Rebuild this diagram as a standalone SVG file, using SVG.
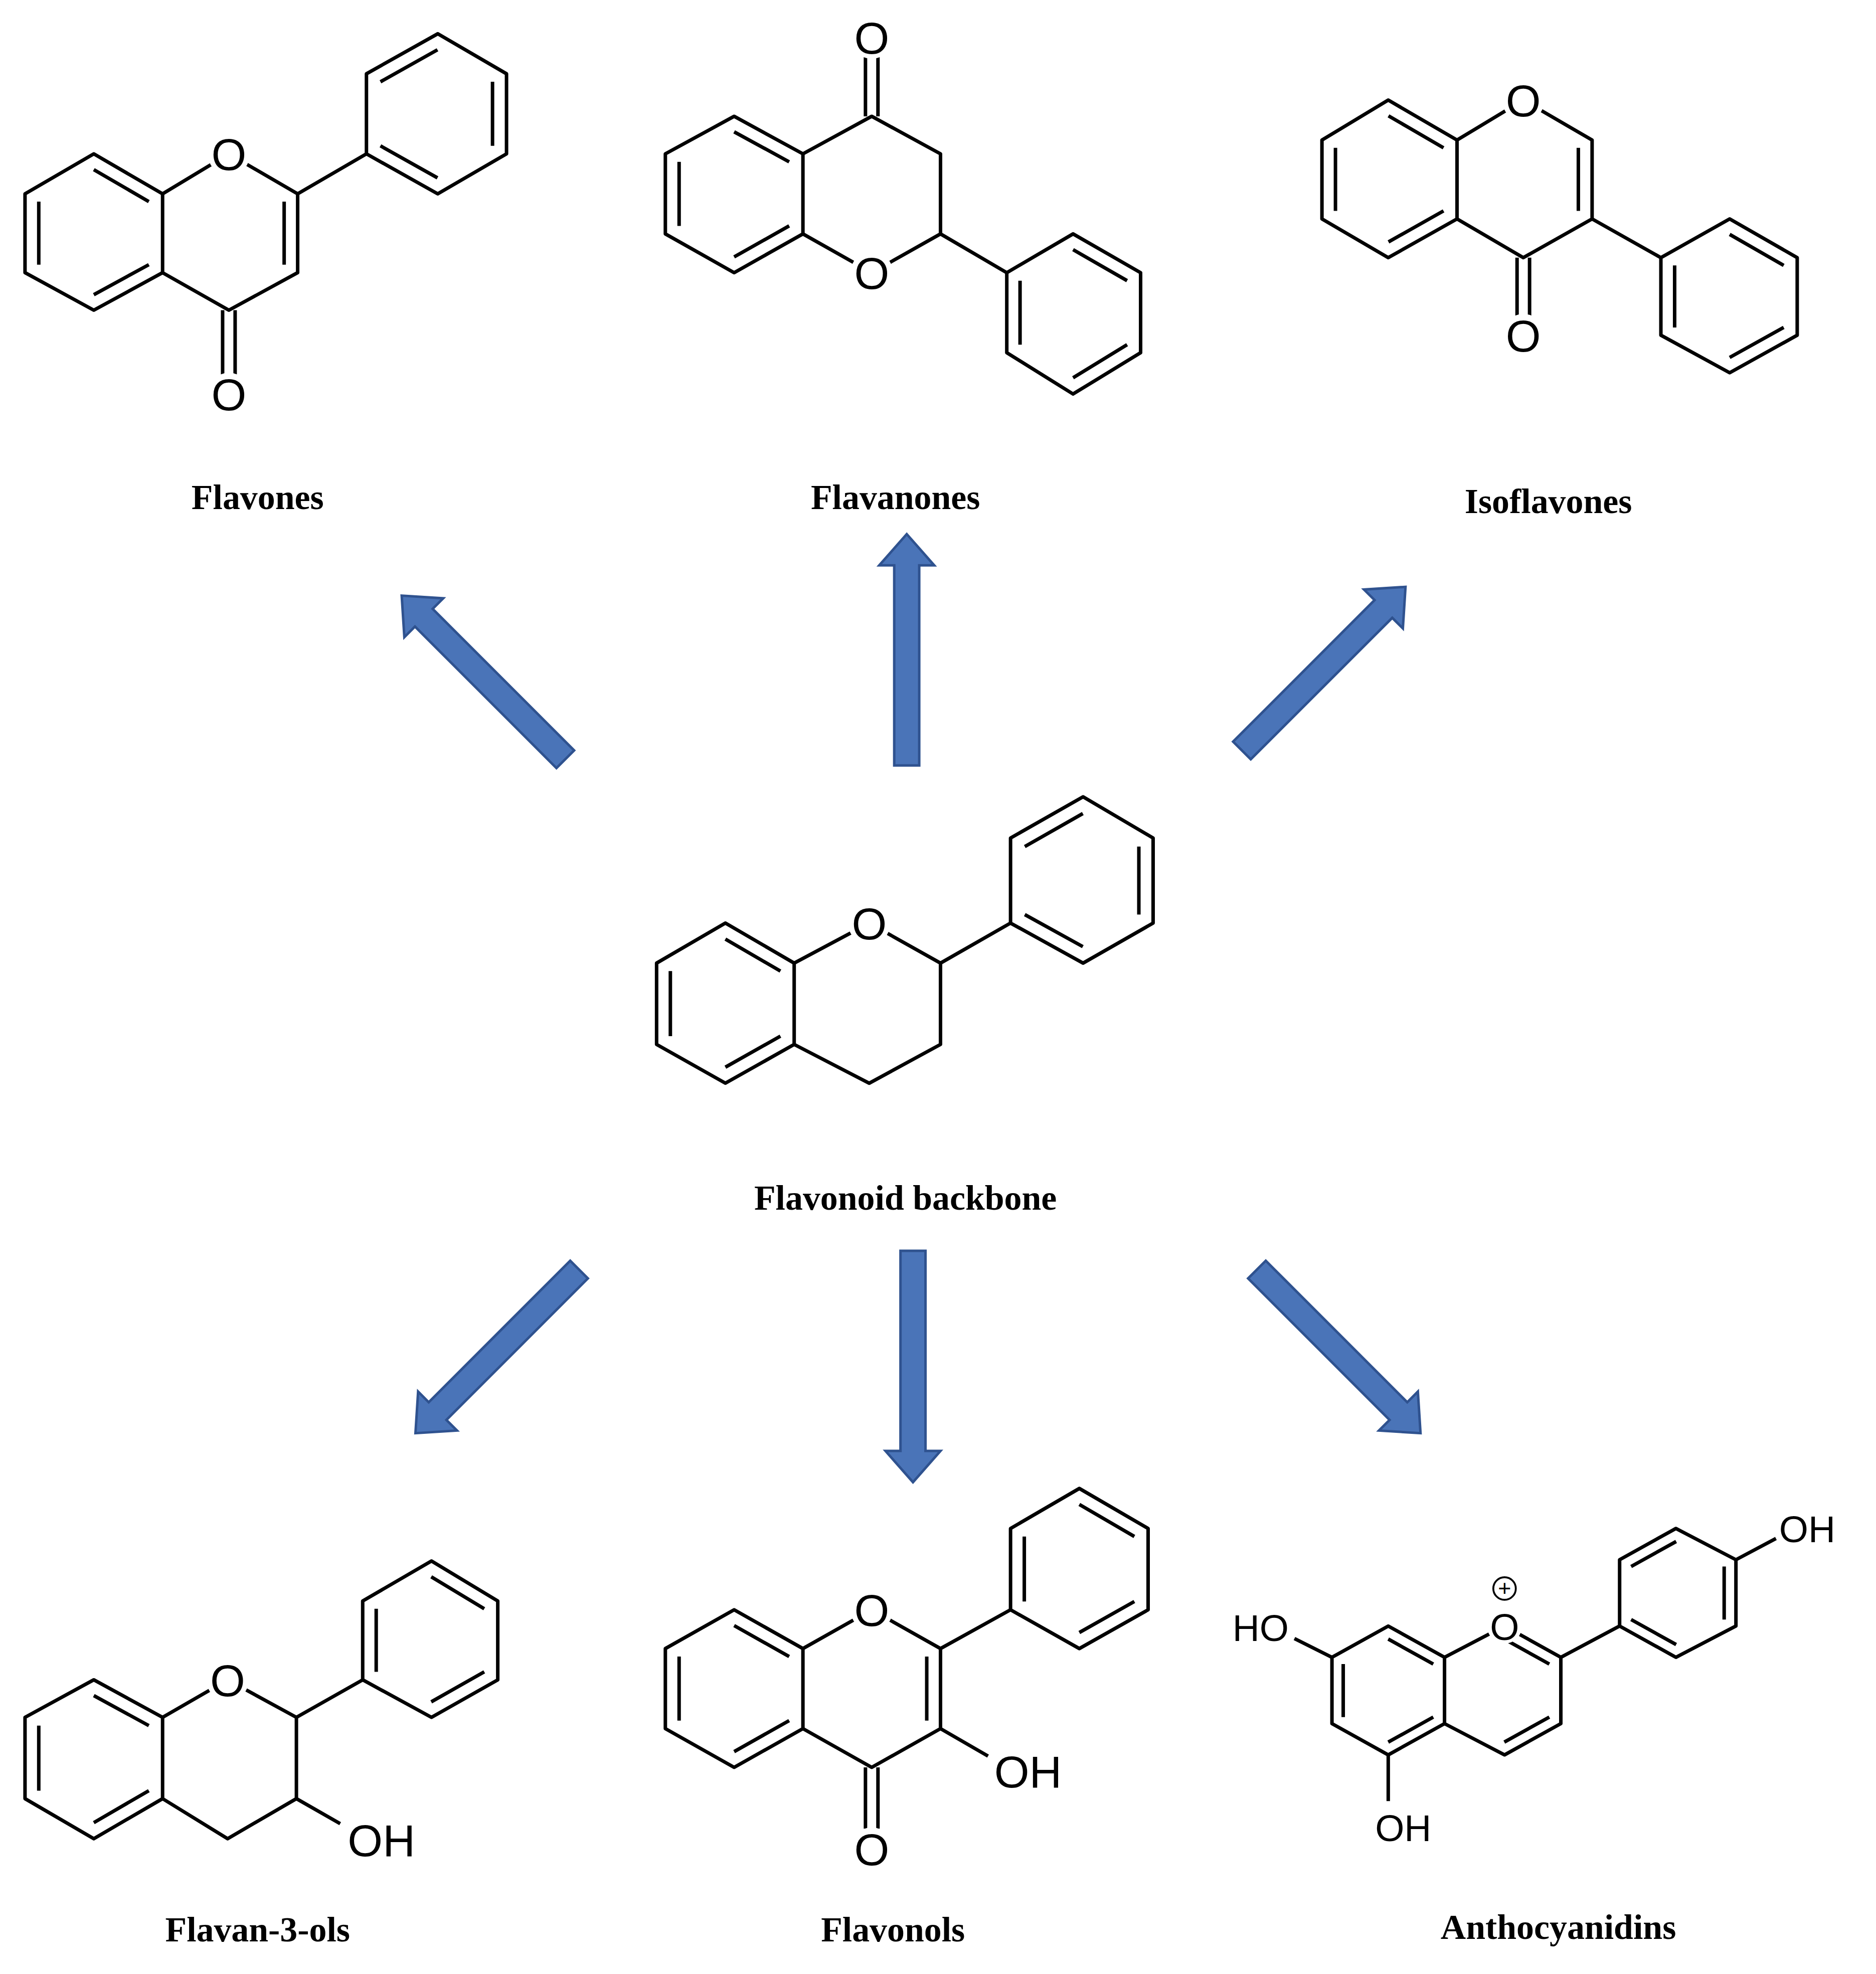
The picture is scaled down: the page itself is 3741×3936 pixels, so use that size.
<svg xmlns="http://www.w3.org/2000/svg" width="3741" height="3936" viewBox="0 0 3741 3936">
<style>
.b{fill:none;stroke:#000;stroke-width:7;vector-effect:non-scaling-stroke;stroke-linejoin:round}
.at{font-family:"Liberation Sans",Arial,sans-serif;font-size:36px;text-anchor:middle}
.at2{font-family:"Liberation Sans",Arial,sans-serif;font-size:30px;text-anchor:middle}
.lb{font-family:"Liberation Serif","DejaVu Serif",serif;font-weight:bold;font-size:28px;text-anchor:middle}
.arr{fill:#4a74b8;stroke:#2f528f;stroke-width:2}
.wc{fill:#fff}
</style>
<defs>
<polygon id="ar" class="arr" points="0,-10 160,-10 160,-22 185,0 160,22 160,10 0,10"/>
</defs>
<rect width="3741" height="3936" fill="#fff"/>
<g transform="scale(2.494)">
<g id="connectors">
<use href="#ar" transform="translate(725,612) rotate(-90)"/>
<use href="#ar" transform="translate(452,607) rotate(225)"/>
<use href="#ar" transform="translate(993,600) rotate(-45)"/>
<use href="#ar" transform="translate(463,1015) rotate(135)"/>
<use href="#ar" transform="translate(730,1000) rotate(90)"/>
<use href="#ar" transform="translate(1005,1015) rotate(45)"/>
</g>

<g id="flavones">
<polygon class="b" points="75,123 130,155 130,218 75,248 20,218 20,155"/>
<path class="b" transform="translate(75,186) scale(.8) translate(-75,-186)" d="M75,123L130,155M130,218L75,248M20,218L20,155"/>
<polyline class="b" points="130,155 183,123 238,155 238,218 183,248 130,218"/>
<path class="b" transform="translate(184,186) scale(.8) translate(-184,-186)" d="M238,155L238,218"/>
<path class="b" d="M178,248L178,300M188,248L188,300M238,155L293,123"/>
<polygon class="b" points="293,123 293,59 350,27 405,59 405,123 350,155"/>
<path class="b" transform="translate(349,91) scale(.8) translate(-349,-91)" d="M405,59L405,123M350,155L293,123M293,59L350,27"/>
<circle class="wc" cx="183" cy="123" r="17"/><text class="at" x="183" y="136">O</text>
<circle class="wc" cx="183" cy="315" r="17"/><text class="at" x="183" y="328">O</text>
<text class="lb" x="206" y="407">Flavones</text>
</g>

<g id="flavanones">
<polygon class="b" points="587,93 642,123 642,187 587,218 532,187 532,123"/>
<path class="b" transform="translate(587,155) scale(.8) translate(-587,-155)" d="M587,93L642,123M642,187L587,218M532,187L532,123"/>
<polyline class="b" points="642,123 697,93 752,123 752,187 697,218 642,187"/>
<path class="b" d="M692,93L692,45M702,93L702,45M752,187L805,218"/>
<polygon class="b" points="805,218 858,187 912,218 912,282 858,315 805,282"/>
<path class="b" transform="translate(858,250) scale(.8) translate(-858,-250)" d="M858,187L912,218M912,282L858,315M805,282L805,218"/>
<circle class="wc" cx="697" cy="218" r="17"/><text class="at" x="697" y="231">O</text>
<circle class="wc" cx="697" cy="30" r="17"/><text class="at" x="697" y="43">O</text>
<text class="lb" x="716" y="407">Flavanones</text>
</g>

<g id="isoflavones">
<polygon class="b" points="1110,80 1165,112 1165,175 1110,206 1057,175 1057,112"/>
<path class="b" transform="translate(1111,143) scale(.8) translate(-1111,-143)" d="M1110,80L1165,112M1165,175L1110,206M1057,175L1057,112"/>
<polyline class="b" points="1165,112 1218,80 1273,112 1273,175 1218,206 1165,175"/>
<path class="b" transform="translate(1218,143) scale(.8) translate(-1218,-143)" d="M1273,112L1273,175"/>
<path class="b" d="M1213,206L1213,253M1223,206L1223,253M1273,175L1328,206"/>
<polygon class="b" points="1328,206 1383,175 1437,206 1437,268 1383,298 1328,268"/>
<path class="b" transform="translate(1383,237) scale(.8) translate(-1383,-237)" d="M1383,175L1437,206M1437,268L1383,298M1328,268L1328,206"/>
<circle class="wc" cx="1218" cy="80" r="17"/><text class="at" x="1218" y="93">O</text>
<circle class="wc" cx="1218" cy="268" r="17"/><text class="at" x="1218" y="281">O</text>
<text class="lb" x="1238" y="410">Isoflavones</text>
</g>

<g id="backbone">
<polygon class="b" points="580,738 635,770 635,835 580,866 525,835 525,770"/>
<path class="b" transform="translate(580,802) scale(.8) translate(-580,-802)" d="M580,738L635,770M635,835L580,866M525,835L525,770"/>
<polyline class="b" points="635,770 695,738 752,770 752,835 695,866 635,835"/>
<path class="b" d="M752,770L808,738"/>
<polygon class="b" points="808,738 808,670 866,637 922,670 922,738 866,770"/>
<path class="b" transform="translate(865,704) scale(.8) translate(-865,-704)" d="M922,670L922,738M866,770L808,738M808,670L866,637"/>
<circle class="wc" cx="695" cy="738" r="17"/><text class="at" x="695" y="751">O</text>
<text class="lb" x="724" y="967">Flavonoid backbone</text>
</g>

<g id="flavan3ols">
<polygon class="b" points="75,1343 130,1373 130,1438 75,1470 20,1438 20,1373"/>
<path class="b" transform="translate(75,1406) scale(.8) translate(-75,-1406)" d="M75,1343L130,1373M130,1438L75,1470M20,1438L20,1373"/>
<polyline class="b" points="130,1373 182,1343 237,1373 237,1438 182,1470 130,1438"/>
<path class="b" d="M237,1438L272,1458M237,1373L290,1343"/>
<polygon class="b" points="290,1343 290,1280 345,1248 398,1280 398,1343 345,1373"/>
<path class="b" transform="translate(344,1311) scale(.8) translate(-344,-1311)" d="M345,1248L398,1280M398,1343L345,1373M290,1343L290,1280"/>
<circle class="wc" cx="182" cy="1343" r="17"/><text class="at" x="182" y="1356">O</text>
<text class="at" x="305" y="1484">OH</text>
<text class="lb" x="206" y="1552">Flavan-3-ols</text>
</g>

<g id="flavonols">
<polygon class="b" points="587,1287 642,1318 642,1382 587,1413 532,1382 532,1318"/>
<path class="b" transform="translate(587,1350) scale(.8) translate(-587,-1350)" d="M587,1287L642,1318M642,1382L587,1413M532,1382L532,1318"/>
<polyline class="b" points="642,1318 697,1287 752,1318 752,1382 697,1413 642,1382"/>
<path class="b" transform="translate(697,1350) scale(.8) translate(-697,-1350)" d="M752,1318L752,1382"/>
<path class="b" d="M692,1413L692,1462M702,1413L702,1462M752,1382L790,1404M752,1318L808,1287"/>
<polygon class="b" points="808,1287 808,1222 863,1190 918,1222 918,1287 863,1318"/>
<path class="b" transform="translate(863,1254) scale(.8) translate(-863,-1254)" d="M863,1190L918,1222M918,1287L863,1318M808,1287L808,1222"/>
<circle class="wc" cx="697" cy="1287" r="17"/><text class="at" x="697" y="1300">O</text>
<circle class="wc" cx="697" cy="1478" r="17"/><text class="at" x="697" y="1491">O</text>
<text class="at" x="822" y="1429">OH</text>
<text class="lb" x="714" y="1552">Flavonols</text>
</g>

<g id="anthocyanidins">
<polygon class="b" points="1110,1300 1155,1325 1155,1378 1110,1403 1065,1378 1065,1325"/>
<path class="b" transform="translate(1110,1352) scale(.8) translate(-1110,-1352)" d="M1110,1300L1155,1325M1155,1378L1110,1403M1065,1378L1065,1325"/>
<polyline class="b" points="1155,1325 1203,1300 1248,1325 1248,1378 1203,1403 1155,1378"/>
<path class="b" transform="translate(1202,1352) scale(.8) translate(-1202,-1352)" d="M1203,1300L1248,1325M1248,1378L1203,1403"/>
<path class="b" d="M1035,1310L1065,1325M1110,1403L1110,1440M1248,1325L1295,1300M1388,1247L1420,1230"/>
<polygon class="b" points="1295,1300 1295,1247 1340,1222 1388,1247 1388,1300 1340,1325"/>
<path class="b" transform="translate(1341,1274) scale(.8) translate(-1341,-1274)" d="M1295,1247L1340,1222M1388,1247L1388,1300M1340,1325L1295,1300"/>
<circle class="wc" cx="1203" cy="1300" r="14"/><text class="at2" x="1203" y="1311">O</text>
<circle cx="1203" cy="1270" r="9" fill="#fff" stroke="#000" stroke-width="1.5"/>
<text class="at2" x="1203" y="1276" style="font-size:18px">+</text>
<text class="at2" x="1008" y="1312">HO</text>
<text class="at2" x="1122" y="1472">OH</text>
<text class="at2" x="1445" y="1233">OH</text>
<text class="lb" x="1246" y="1550">Anthocyanidins</text>
</g>
</g>
</svg>
